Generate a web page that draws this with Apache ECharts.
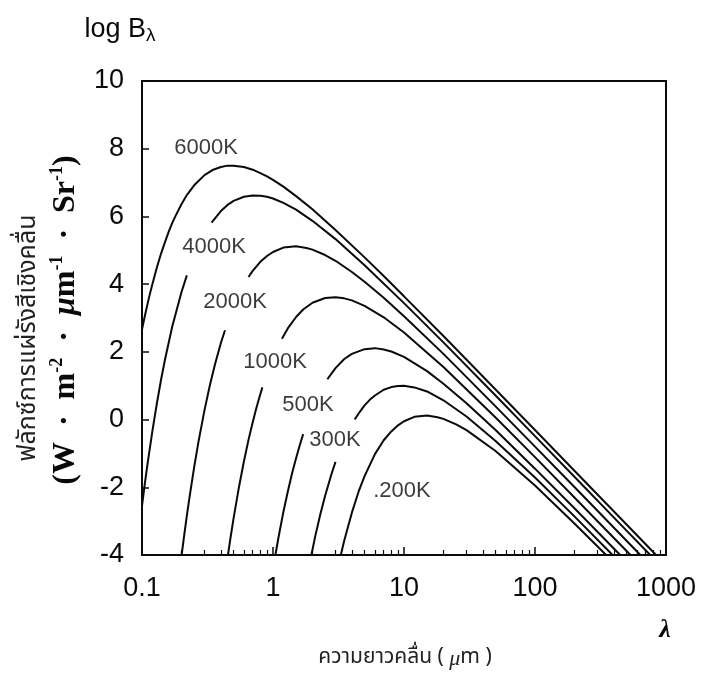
<!DOCTYPE html>
<html>
<head>
<meta charset="utf-8">
<script src="https://cdn.jsdelivr.net/npm/echarts@6/dist/echarts.min.js"></script>
<style>
  html, body { margin: 0; padding: 0; background: #fff; }
  #chart { width: 701px; height: 673px; }
</style>
</head>
<body>
<div id="chart"></div>
<script>
// [wavelength µm, log B]; curves are cut where their label sits
const t6000 = [[0.1, 2.66], [0.105, 3.05], [0.11, 3.40], [0.115, 3.72], [0.12, 4.00], [0.13, 4.50], [0.14, 4.91], [0.15, 5.25], [0.16, 5.55], [0.17, 5.80], [0.18, 6.01], [0.2, 6.36], [0.22, 6.63], [0.25, 6.92], [0.3, 7.22], [0.35, 7.38], [0.4, 7.46], [0.45, 7.50], [0.5, 7.50], [0.6, 7.46], [0.7, 7.38], [0.8, 7.28], [0.9, 7.18], [1, 7.08], [1.2, 6.88], [1.5, 6.60], [2, 6.21], [3, 5.60], [5, 4.79], [7, 4.24], [10, 3.64], [20, 2.47], [50, 0.89], [100, -0.31], [200, -1.51], [500, -3.10], [840, -4]]
const t4000Low = [[0.1, -2.55], [0.105, -1.91], [0.11, -1.33], [0.12, -0.34], [0.13, 0.49], [0.14, 1.19], [0.15, 1.78], [0.17, 2.74], [0.2, 3.76], [0.22, 4.26]]
const t4000High = [[0.34, 5.82], [0.4, 6.16], [0.45, 6.34], [0.5, 6.46], [0.6, 6.58], [0.7, 6.62], [0.8, 6.61], [0.9, 6.58], [1, 6.53], [1.2, 6.40], [1.5, 6.20], [2, 5.87], [3, 5.33], [5, 4.56], [10, 3.44], [20, 2.28], [50, 0.71], [100, -0.49], [200, -1.69], [500, -3.28], [758, -4]]
const t2000Low = [[0.2007, -4], [0.21, -3.41], [0.22, -2.84], [0.23, -2.32], [0.25, -1.41], [0.27, -0.65], [0.3, 0.28], [0.33, 1.02], [0.36, 1.62], [0.4, 2.26], [0.43, 2.64]]
const t2000High = [[0.65, 4.21], [0.7, 4.39], [0.8, 4.66], [0.9, 4.83], [1, 4.95], [1.2, 5.08], [1.5, 5.12], [1.8, 5.07], [2, 5.02], [2.5, 4.86], [3, 4.69], [4, 4.36], [5, 4.07], [7, 3.60], [10, 3.05], [20, 1.94], [50, 0.39], [100, -0.80], [200, -1.99], [500, -3.58], [637, -4]]
const t1000Low = [[0.453, -4], [0.47, -3.58], [0.5, -2.92], [0.55, -1.99], [0.6, -1.23], [0.65, -0.60], [0.7, -0.08], [0.75, 0.37], [0.8, 0.75], [0.83, 0.95]]
const t1000High = [[1.17, 2.39], [1.3, 2.70], [1.5, 3.03], [1.7, 3.25], [2, 3.45], [2.5, 3.59], [3, 3.61], [3.5, 3.58], [4, 3.52], [5, 3.36], [7, 3.02], [10, 2.57], [20, 1.55], [50, 0.06], [100, -1.11], [200, -2.30], [500, -3.88], [535, -4]]
const t500Low = [[1.043, -4], [1.1, -3.49], [1.2, -2.73], [1.3, -2.11], [1.4, -1.58], [1.5, -1.14], [1.6, -0.76], [1.7, -0.43]]
const t500High = [[2.6, 1.19], [3, 1.52], [3.5, 1.79], [4, 1.94], [5, 2.08], [6, 2.11], [7, 2.07], [8, 2.01], [10, 1.85], [15, 1.43], [20, 1.06], [30, 0.48], [50, -0.31], [100, -1.45], [200, -2.62], [447, -4]]
const t300Low = [[1.963, -4], [2.1, -3.45], [2.3, -2.79], [2.5, -2.25], [2.8, -1.60], [3, -1.25]]
const t300High = [[4.2, 0.00], [4.6, 0.23], [5, 0.42], [5.5, 0.59], [6, 0.71], [7, 0.88], [8, 0.96], [9, 0.99], [10, 1.00], [12, 0.95], [15, 0.83], [20, 0.57], [30, 0.09], [50, -0.63], [100, -1.71], [200, -2.86], [391, -4]]
const t200 = [[3.293, -4], [3.5, -3.57], [4, -2.75], [4.5, -2.13], [5, -1.67], [6, -1.02], [7, -0.61], [8, -0.35], [9, -0.17], [10, -0.05], [12, 0.08], [15, 0.12], [18, 0.07], [20, 0.02], [25, -0.14], [30, -0.31], [50, -0.93], [100, -1.95], [200, -3.07], [349, -4]]

const segments = [t6000, t4000Low, t4000High, t2000Low, t2000High, t1000Low, t1000High,
  t500Low, t500High, t300Low, t300High, t200]

const curveNames = ['6000K', '4000K', '2000K', '1000K', '500K', '300K', '.200K']
const labelAnchors = [[0.308, 8.02], [0.3545, 5.10], [0.513, 3.47], [1.036, 1.70], [1.85, 0.43], [2.974, -0.60], [9.654, -2.11]]

const xTickLabels = ['0.1', '1', '10', '100', '1000']

const ink = '#0a0a0a'
const sans = "'Liberation Sans', Arial, Helvetica, sans-serif"
const serif = "'Liberation Serif', 'Times New Roman', serif"
const thai = "'Noto Sans Thai', 'Noto Sans Thai Looped', Loma, Garuda, Norasi, 'DejaVu Sans', sans-serif"

const chart = echarts.init(document.getElementById('chart'), null, { renderer: 'canvas' })

const series = segments.map(seg => ({
  type: 'line',
  data: seg,
  showSymbol: false,
  smooth: false,
  lineStyle: { color: ink, width: 2 },
  silent: true,
  z: 3,
}))

// curve names, placed in data space next to each curve
series.push({
  type: 'scatter',
  data: labelAnchors.map((p, i) => ({ value: p, name: curveNames[i] })),
  symbolSize: 1,
  itemStyle: { color: 'rgba(0,0,0,0)' },
  label: {
    show: true,
    position: 'inside',
    formatter: p => p.name,
    color: ink,
    fontSize: 22,
    fontFamily: sans,
  },
  silent: true,
  z: 4,
})

const option = {
  animation: false,
  backgroundColor: '#fff',
  grid: {
    left: 142, right: 35, top: 81, bottom: 118,
    show: true, borderColor: ink, borderWidth: 2,
  },
  xAxis: {
    type: 'log', logBase: 10, min: 0.1, max: 1000,
    axisLine: { show: true, onZero: false, lineStyle: { color: ink, width: 2 } },
    axisTick: { show: true, inside: true, length: 8, lineStyle: { color: ink, width: 1.5 } },
    minorTick: { show: true, splitNumber: 9, length: 5, lineStyle: { color: ink, width: 1.2 } },
    axisLabel: {
      color: ink, fontSize: 27, fontFamily: sans, margin: 20,
      formatter: v => xTickLabels[Math.round(Math.log10(v)) + 1],
    },
    splitLine: { show: false },
  },
  yAxis: {
    type: 'value', min: -4, max: 10, interval: 2,
    axisLine: { show: true, onZero: false, lineStyle: { color: ink, width: 2 } },
    axisTick: { show: true, inside: true, length: 7, lineStyle: { color: ink, width: 1.5 } },
    axisLabel: { color: ink, fontSize: 27, fontFamily: sans, margin: 18 },
    splitLine: { show: false },
  },
  series,
  graphic: [
    {
      type: 'text', x: 120, y: 30,
      style: {
        text: '{a|log B}{b|λ}',
        align: 'center', verticalAlign: 'middle',
        rich: {
          a: { fontSize: 27, fontFamily: sans, fill: ink, lineHeight: 30 },
          b: { fontSize: 19, fontFamily: sans, fill: ink, verticalAlign: 'bottom', lineHeight: 24 },
        },
      },
    },
    {
      type: 'text', x: 30, y: 338, rotation: Math.PI / 2,
      style: {
        text: 'ฟลักซ์การแผ่รังสีเชิงคลื่น',
        align: 'center', verticalAlign: 'middle',
        fontSize: 25, fontFamily: thai, fill: '#222',
      },
    },
    {
      type: 'text', x: 66, y: 320, rotation: Math.PI / 2,
      style: {
        text: '{p|(W  ·  m}{s|-2}{p|  ·  }{mu|μ}{p|m}{s|-1}{p|  ·  Sr}{s|-1}{p|)}',
        align: 'center', verticalAlign: 'middle',
        rich: {
          p: { fontSize: 32, fontFamily: serif, fontWeight: 'bold', fill: ink, lineHeight: 36 },
          mu: { fontSize: 32, fontFamily: serif, fontWeight: 'bold', fontStyle: 'italic', fill: ink, lineHeight: 36 },
          s: { fontSize: 18, fontFamily: serif, fontWeight: 'bold', fill: ink, verticalAlign: 'top', lineHeight: 19 },
        },
      },
    },
    {
      type: 'text', x: 405, y: 659,
      style: {
        text: '{t|ความยาวคลื่น ( }{mu|μ}{t|m )}',
        align: 'center', verticalAlign: 'middle',
        rich: {
          t: { fontSize: 21, fontFamily: thai, fill: '#222' },
          mu: { fontSize: 22, fontFamily: serif, fontStyle: 'italic', fill: '#222' },
        },
      },
    },
    {
      type: 'text', x: 665, y: 630,
      style: {
        text: 'λ', align: 'center', verticalAlign: 'middle',
        fontSize: 26, fontFamily: serif, fontStyle: 'italic', fontWeight: 'bold', fill: ink,
      },
    },
  ],
}

chart.setOption(option)
</script>
</body>
</html>
